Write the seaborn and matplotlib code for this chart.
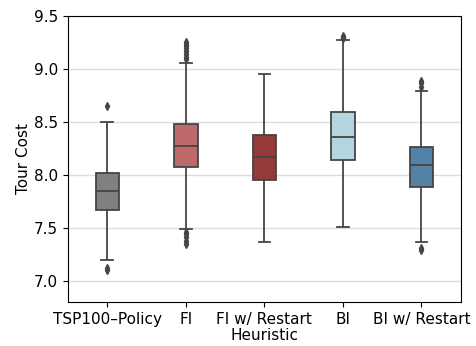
import pandas as pd
import numpy as np
import matplotlib
matplotlib.use("Agg")
import matplotlib.pyplot as plt
import seaborn as sns

# tour costs per heuristic
heuristics = ["TSP100–Policy", "FI", "FI w/ Restart", "BI", "BI w/ Restart"]

tsp100_policy = [7.10, 7.12, 7.20, 7.35, 7.50, 7.60, 7.667,
                 7.70, 7.74, 7.78, 7.81, 7.83, 7.849,
                 7.87, 7.90, 7.94, 7.97, 8.00, 8.019,
                 8.10, 8.20, 8.30, 8.40, 8.497, 8.648]

fi = [7.35, 7.38, 7.41, 7.44, 7.46, 7.49, 7.70, 7.85, 7.95, 8.02, 8.075,
      8.10, 8.13, 8.16, 8.18, 8.20, 8.22, 8.24, 8.25, 8.26, 8.267,
      8.28, 8.30, 8.32, 8.34, 8.36, 8.39, 8.41, 8.44, 8.46, 8.475,
      8.70, 9.05, 9.09, 9.11, 9.14, 9.17, 9.19, 9.21, 9.23, 9.25]

fi_restart = [7.365, 7.60, 7.75, 7.85, 7.92, 7.953,
              8.00, 8.06, 8.11, 8.14, 8.164,
              8.20, 8.25, 8.30, 8.34, 8.371,
              8.45, 8.55, 8.65, 8.80, 8.953]

bi = [7.51, 7.75, 7.90, 8.00, 8.08, 8.135,
      8.19, 8.24, 8.29, 8.33, 8.358,
      8.40, 8.46, 8.51, 8.56, 8.591,
      8.90, 9.27, 9.29, 9.30, 9.31]

bi_restart = [7.29, 7.31, 7.368, 7.55, 7.70, 7.82, 7.884,
              7.93, 7.97, 8.01, 8.04, 8.07, 8.088,
              8.11, 8.15, 8.19, 8.22, 8.24, 8.258,
              8.40, 8.60, 8.786, 8.83, 8.86, 8.88]

colors = ["grey", "indianred", "brown", "lightblue", "steelblue"]

rows = []
for name, vals in zip(heuristics, [tsp100_policy, fi, fi_restart, bi, bi_restart]):
    for v in vals:
        rows.append({"Heuristic": name, "Tour Cost": v})
df = pd.DataFrame(rows)

fig, ax = plt.subplots(figsize=(4.76, 3.46), dpi=100)
fig.subplots_adjust(left=0.143, right=0.968, top=0.955, bottom=0.127)

sns.boxplot(data=df, x="Heuristic", y="Tour Cost", hue="Heuristic",
            order=heuristics, hue_order=heuristics, palette=colors,
            width=0.3, legend=False, ax=ax, linecolor="#454545", linewidth=1.3,
            flierprops=dict(marker="d", markersize=4, markerfacecolor="#454545",
                            markeredgecolor="#454545"))

ax.set_ylim(6.8, 9.5)
ax.set_yticks([7.0, 7.5, 8.0, 8.5, 9.0, 9.5])
ax.yaxis.grid(True, color="#dddddd", linewidth=1)
ax.set_axisbelow(True)
ax.tick_params(labelsize=11)
ax.set_xlabel("Heuristic", fontsize=11, labelpad=1)
ax.set_ylabel("Tour Cost", fontsize=11, labelpad=2)

plt.savefig("out.png", dpi=100)
